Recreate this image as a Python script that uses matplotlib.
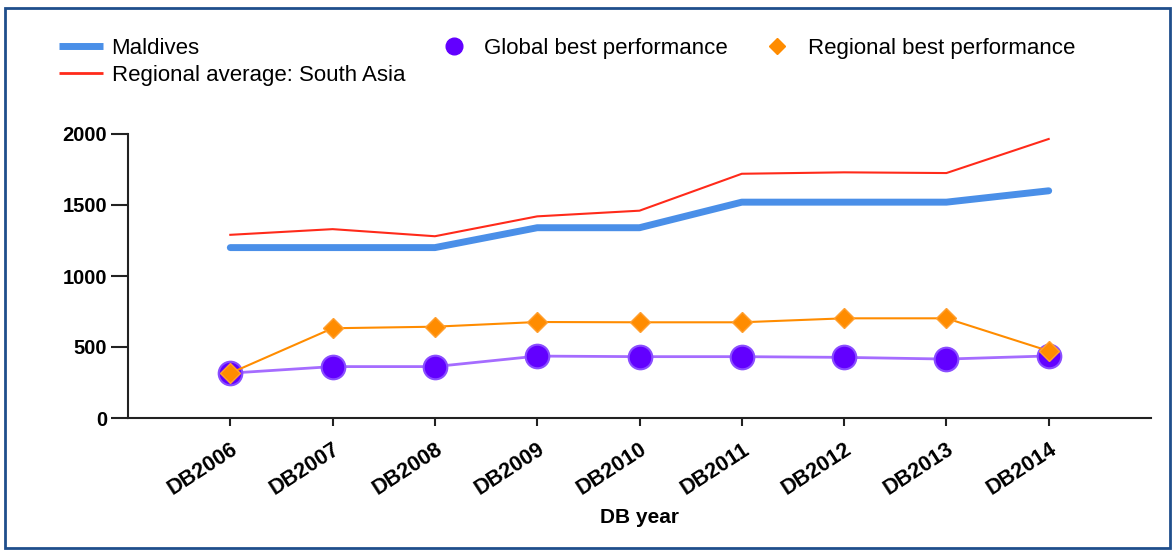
import matplotlib.pyplot as plt
from matplotlib.patches import Rectangle
from matplotlib.lines import Line2D

years = ["DB2006", "DB2007", "DB2008", "DB2009", "DB2010",
         "DB2011", "DB2012", "DB2013", "DB2014"]
maldives = [1200, 1200, 1200, 1340, 1340, 1520, 1520, 1520, 1600]
regional_avg = [1290, 1330, 1280, 1420, 1460, 1720, 1730, 1725, 1965]
global_best = [316, 362, 362, 436, 432, 432, 427, 415, 437]
regional_best = [316, 632, 643, 676, 674, 674, 702, 702, 472]
y_ticks = [0, 500, 1000, 1500, 2000]

plt.rcParams['font.family'] = ['Liberation Sans', 'DejaVu Sans']

fig = plt.figure(figsize=(11.75, 5.5), dpi=100)
ax = fig.add_axes([128 / 1175, 1 - 418 / 550, (1151 - 128) / 1175, (418 - 134) / 550])

x = list(range(len(years)))

# lineas principales
ax.plot(x, regional_avg, color="#ff2a1a", lw=1.5, zorder=3)
ax.plot(x, maldives, color="#4a8fe8", lw=5, solid_capstyle="round", zorder=3)

# mejores desempeños
ax.plot(x, global_best, color="#a56cff", lw=2, marker="o", ms=17,
        mfc="#6200ff", mec="#8a4dff", mew=1.5, zorder=4)
ax.plot(x, regional_best, color="#ff8c00", lw=1.5, marker="D", ms=10,
        mfc="#ff8c00", mec="#ff9f30", mew=1, zorder=5)

ax.set_xlim(-1, len(years))
ax.set_ylim(0, 2000)
ax.set_xticks(x)
ax.set_xticklabels(years, rotation=33, ha="right", va="top", rotation_mode="anchor",
                   fontweight="bold", fontsize=15.5)
ax.set_yticks(y_ticks)
ax.set_yticklabels([str(v) for v in y_ticks], fontweight="bold", fontsize=14.5)
ax.tick_params(axis="y", direction="out", length=12, width=1.5, color="#222222", pad=3)
ax.tick_params(axis="x", direction="out", length=6, width=1.5, color="#222222", pad=9)
for s in ["top", "right"]:
    ax.spines[s].set_visible(False)
for s in ["left", "bottom"]:
    ax.spines[s].set_linewidth(1.5)
    ax.spines[s].set_color("#222222")
ax.set_xlabel("DB year", fontweight="bold", fontsize=15, labelpad=6)

handles = [
    Line2D([], [], color="#4a8fe8", lw=5, solid_capstyle="butt"),
    Line2D([], [], color="#ff2a1a", lw=2, solid_capstyle="butt"),
    Line2D([], [], ls="none", marker="o", ms=12, mfc="#6200ff", mec="#6200ff"),
    Line2D([], [], ls="none", marker="D", ms=8, mfc="#ff8c00", mec="#ff8c00"),
]
labels = ["Maldives", "Regional average: South Asia",
          "Global best performance", "Regional best performance"]
fig.legend(handles, labels, ncol=3, loc="upper left", bbox_to_anchor=(0.0335, 0.968),
           frameon=False, fontsize=16, handlelength=1.95, handletextpad=0.4,
           columnspacing=1.22, labelspacing=0.3)

fig.patches.append(Rectangle((0.004, 0.004), 0.992, 0.982, transform=fig.transFigure,
                             fill=False, edgecolor="#1f4e8c", lw=2))

fig.savefig("out.png", dpi=100)
